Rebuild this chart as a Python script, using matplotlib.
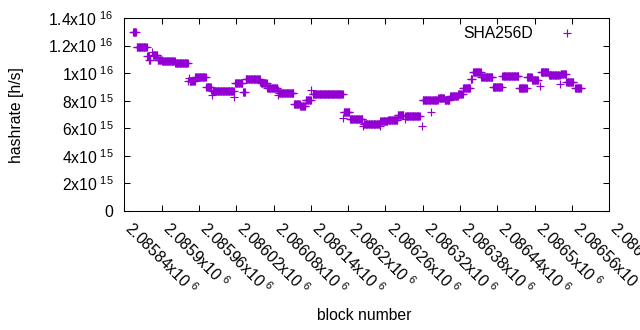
import matplotlib

matplotlib.use("Agg")
import matplotlib.pyplot as plt
import matplotlib.transforms as mtransforms
import numpy as np

matplotlib.rcParams.update(
    {
        "font.family": ["Liberation Sans", "DejaVu Sans"],
        "font.size": 11.3,
        "mathtext.default": "regular",
        "axes.linewidth": 0.75,
    }
)

# hashrate estimate runs: first block, last block, value (1e15 h/s)
RUN_START = [
    2085854, 2085860, 2085877, 2085880, 2085884, 2085886, 2085894, 2085901, 2085922,
    2085943, 2085944, 2085945, 2085954, 2085972, 2085980, 2085981, 2085982, 2086017,
    2086018, 2086031, 2086035, 2086054, 2086059, 2086060, 2086070, 2086087, 2086088,
    2086089, 2086113, 2086123, 2086132, 2086141, 2086143, 2086192, 2086193, 2086203,
    2086224, 2086225, 2086251, 2086252, 2086264, 2086280, 2086291, 2086292, 2086318,
    2086320, 2086333, 2086334, 2086345, 2086355, 2086364, 2086377, 2086385, 2086397,
    2086401, 2086414, 2086433, 2086448, 2086475, 2086488, 2086496, 2086508, 2086510,
    2086523, 2086541, 2086542, 2086551, 2086565,
]
RUN_END = [
    2085859, 2085876, 2085879, 2085882, 2085884, 2085893, 2085900, 2085921, 2085942,
    2085943, 2085944, 2085953, 2085971, 2085979, 2085980, 2085981, 2086016, 2086017,
    2086030, 2086034, 2086053, 2086058, 2086059, 2086069, 2086086, 2086087, 2086088,
    2086112, 2086122, 2086131, 2086140, 2086141, 2086191, 2086192, 2086202, 2086223,
    2086224, 2086250, 2086251, 2086263, 2086279, 2086289, 2086291, 2086315, 2086318,
    2086332, 2086333, 2086344, 2086354, 2086363, 2086376, 2086384, 2086396, 2086399,
    2086413, 2086432, 2086447, 2086474, 2086487, 2086495, 2086505, 2086508, 2086522,
    2086540, 2086541, 2086550, 2086562, 2086575,
]
RUN_VALUE = [
    13.0, 11.88, 11.25, 10.98, 11.55, 11.3, 10.95, 10.86, 10.71,
    9.45, 9.65, 9.45, 9.69, 8.97, 8.77, 8.45, 8.68, 8.3,
    9.26, 8.66, 9.55, 9.6, 9.38, 9.26, 8.9, 8.77, 8.38,
    8.54, 7.73, 7.65, 8.02, 8.77, 8.48, 6.77, 7.16, 6.7,
    6.18, 6.33, 6.16, 6.5, 6.6, 6.93, 6.7, 6.88, 6.2,
    8.03, 7.16, 8.03, 8.17, 8.02, 8.37, 8.48, 8.9, 9.55,
    10.06, 9.69, 9.03, 9.76, 8.9, 9.7, 9.53, 9.04, 10.06,
    9.86, 9.2, 9.93, 9.39, 8.9,
]

X_TICKS = np.arange(2085840, 2086621, 60)
Y_TICKS = np.arange(0, 1.41e16, 2e15)
PURPLE = "#9400d3"


def sci_label(v):
    if v == 0:
        return "0"
    exp = int(np.floor(np.log10(v) + 1e-9))
    mant = v / 10.0**exp
    return "%gx10$^{\\ %d}$" % (round(mant, 6), exp)


blocks = np.concatenate([np.arange(s, e + 1) for s, e in zip(RUN_START, RUN_END)])
rates = np.concatenate(
    [np.full(e - s + 1, v * 1e15) for s, e, v in zip(RUN_START, RUN_END, RUN_VALUE)]
)

fig = plt.figure(figsize=(6.4, 3.3), dpi=100)
ax = fig.add_axes([0.1942, 0.3606, 0.7578, 0.5848])
ax.plot(blocks, rates, linestyle="none", marker="+", markersize=5.6, markeredgewidth=0.85,
        color=PURPLE, label="SHA256D")

ax.set_xlim(X_TICKS[0], X_TICKS[-1])
ax.set_ylim(0, 1.4e16)
ax.set_xticks(X_TICKS)
ax.set_yticks(Y_TICKS)
ax.set_xticklabels([])
ax.set_yticklabels([sci_label(y) for y in Y_TICKS])
ax.tick_params(direction="in", length=4.3, width=0.75, top=True, right=True)
ax.tick_params(axis="y", pad=8)

# gnuplot-style rotated x labels, starting just below each tick
shift = mtransforms.ScaledTranslation(4 / 100, -14.5 / 100, fig.dpi_scale_trans)
for x in X_TICKS:
    ax.text(x, 0, sci_label(x), transform=ax.get_xaxis_transform() + shift,
            rotation=-45, rotation_mode="anchor", ha="left", va="center")

fig.text(17 / 640, 1 - 115 / 330, "hashrate [h/s]", rotation=90, ha="center", va="center")
fig.text(364 / 640, 1 - 315 / 330, "block number", ha="center", va="center")

ax.legend(loc="upper right", bbox_to_anchor=(0.945, 0.958), borderaxespad=0, borderpad=0,
          markerfirst=False, frameon=False, handletextpad=1.17, handlelength=2.0)

fig.savefig("out.png", dpi=100)
